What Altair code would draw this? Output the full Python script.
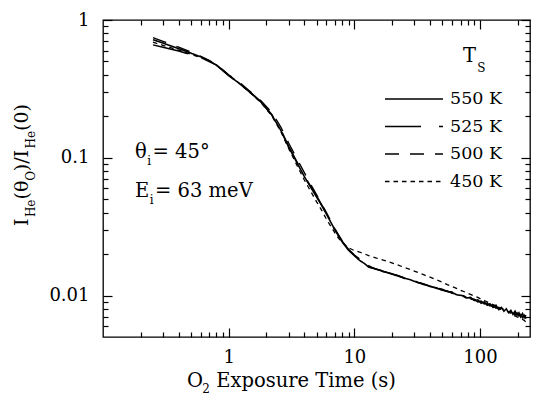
import altair as alt
import pandas as pd

# ---------------- data ----------------
time_s = [0.25, 0.3, 0.4, 0.5, 0.6, 0.7, 0.8, 1.0, 1.2, 1.5, 1.8, 2.2, 2.6, 3.0, 3.5, 4.0, 4.5, 5.0, 5.5,
          6.0, 6.5, 7.0, 7.5, 8.0, 9.0, 10,
          11, 12, 13, 14, 15, 17, 19, 22, 25, 28, 32, 36, 40, 45, 50, 55,
          60, 66, 72, 78, 84, 90, 96, 102, 108, 114, 120, 127, 134, 141, 148, 155, 162, 169, 176, 183,
          190, 197, 204, 211, 218, 225, 232]

i_550 = [0.72, 0.68, 0.62, 0.575, 0.54, 0.505, 0.47, 0.395, 0.35, 0.295, 0.255, 0.205, 0.158, 0.12, 0.092,
         0.073, 0.061, 0.052, 0.045, 0.039, 0.034, 0.030, 0.027, 0.0245, 0.0213, 0.0195,
         0.0180, 0.0171, 0.0161, 0.0159, 0.0155, 0.0150, 0.0145, 0.0139, 0.0134, 0.0130, 0.0124, 0.0120,
         0.0117, 0.0113, 0.0110, 0.0107,
         0.0105, 0.0101, 0.0100, 0.0096, 0.0097, 0.0092, 0.0093, 0.0088, 0.0090, 0.0085, 0.0087, 0.0082,
         0.0085, 0.0079, 0.0082, 0.0077, 0.0080, 0.0075, 0.0078, 0.0073, 0.0077, 0.0072, 0.0075, 0.0070,
         0.0074, 0.0069, 0.0072]

i_525 = [0.66, 0.635, 0.595, 0.56, 0.53, 0.50, 0.47, 0.397, 0.352, 0.297, 0.256, 0.206, 0.16, 0.121, 0.093,
         0.074, 0.062, 0.053, 0.0455, 0.0395, 0.0345, 0.0302, 0.0272, 0.0248, 0.0216, 0.0196,
         0.0178, 0.0175, 0.0161, 0.0158, 0.0156, 0.0149, 0.0146, 0.0140, 0.0135, 0.0129, 0.0125, 0.0121,
         0.0116, 0.0114, 0.0109, 0.0108,
         0.0104, 0.0103, 0.0098, 0.0098, 0.0094, 0.0094, 0.0090, 0.0091, 0.0087, 0.0088, 0.0084, 0.0085,
         0.0081, 0.0082, 0.0078, 0.0080, 0.0076, 0.0078, 0.0074, 0.0076, 0.0072, 0.0075, 0.0071, 0.0073,
         0.0069, 0.0072, 0.0068]

i_500 = [0.745, 0.70, 0.635, 0.585, 0.545, 0.51, 0.475, 0.40, 0.356, 0.30, 0.26, 0.214, 0.167, 0.128, 0.098,
         0.078, 0.064, 0.054, 0.046, 0.040, 0.0348, 0.0305, 0.0274, 0.0249, 0.0216, 0.0197,
         0.0184, 0.0172, 0.0165, 0.0159, 0.0155, 0.0151, 0.0144, 0.0140, 0.0133, 0.0131, 0.0125, 0.0121,
         0.0117, 0.0114, 0.0111, 0.0107,
         0.0106, 0.0102, 0.0101, 0.0097, 0.0096, 0.0093, 0.0092, 0.0089, 0.0089, 0.0086, 0.0086, 0.0083,
         0.0083, 0.0080, 0.0080, 0.0078, 0.0078, 0.0076, 0.0076, 0.0074, 0.0075, 0.0073, 0.0073, 0.0071,
         0.0072, 0.0070, 0.0070]

i_450 = [0.69, 0.655, 0.605, 0.565, 0.532, 0.503, 0.472, 0.396, 0.35, 0.294, 0.252, 0.202, 0.155, 0.117, 0.088,
         0.069, 0.057, 0.048, 0.0415, 0.0358, 0.0318, 0.0285, 0.026, 0.0243, 0.0222, 0.0212,
         0.0207, 0.0201, 0.0195, 0.0191, 0.0187, 0.0181, 0.0175, 0.0167, 0.0160, 0.0154, 0.0147, 0.0141,
         0.0136, 0.0130, 0.0125, 0.0120,
         0.0116, 0.0112, 0.0108, 0.0105, 0.0102, 0.0099, 0.0097, 0.0094, 0.0092, 0.0090, 0.0088, 0.0086,
         0.0084, 0.0082, 0.0081, 0.0079, 0.0077, 0.0076, 0.0074, 0.0072, 0.0071, 0.0070, 0.0069, 0.0068,
         0.0067, 0.0066, 0.0064]

series = ["550 K", "525 K", "500 K", "450 K"]

x_major = [1, 10, 100]
x_minor = [0.2, 0.3, 0.4, 0.5, 0.6, 0.7, 0.8, 0.9, 2, 3, 4, 5, 6, 7, 8, 9,
           20, 30, 40, 50, 60, 70, 80, 90, 200]
y_major = [0.01, 0.1, 1]
y_minor = [0.006, 0.007, 0.008, 0.009, 0.02, 0.03, 0.04, 0.05, 0.06, 0.07, 0.08, 0.09,
           0.2, 0.3, 0.4, 0.5, 0.6, 0.7, 0.8, 0.9]

# ---------------- table ----------------
rows = []
for name, vals in zip(series, [i_550, i_525, i_500, i_450]):
    assert len(vals) == len(time_s)
    for t, v in zip(time_s, vals):
        rows.append({"t": t, "v": v, "T": name})
df = pd.DataFrame(rows)

FONT = "DejaVu Serif"
# approximate advance widths (em) of DejaVu Serif, used only to place sub/superscript pieces
EM = {"I": 0.468, "H": 0.875, "e": 0.592, "(": 0.390, ")": 0.390, "\u03b8": 0.602, "O": 0.787,
      "/": 0.337, "0": 0.636, "E": 0.730, "i": 0.320, "T": 0.682, "2": 0.636, " ": 0.318}


def wid(s, size):
    return sum(EM[c] for c in s) * size


W, H = 427, 317
OX, OY = 103, 20  # plot origin inside the page

X_SCALE = alt.Scale(type="log", domain=[0.1, 250], nice=False)
Y_SCALE = alt.Scale(type="log", domain=[0.005, 1], nice=False)

base = alt.Chart(df)

lines = base.mark_line(color="black", strokeCap="butt").encode(
    x=alt.X("t:Q", scale=X_SCALE,
            axis=alt.Axis(orient="bottom", values=x_major, format="~g", ticks=False, domain=False,
                          grid=False, labelFont=FONT, labelFontSize=18, labelColor="black",
                          labelPadding=11, title=None)),
    y=alt.Y("v:Q", scale=Y_SCALE,
            axis=alt.Axis(orient="left", values=y_major, format="~g", ticks=False, domain=False,
                          grid=False, labelFont=FONT, labelFontSize=18, labelColor="black",
                          labelPadding=14, title=None)),
    strokeDash=alt.StrokeDash(
        "T:N",
        scale=alt.Scale(domain=series, range=[[1, 0], [36, 18], [14, 11], [4.5, 4]]),
        legend=alt.Legend(orient="none", legendX=281, legendY=69, title=None,
                          symbolType="stroke", symbolSize=3364, symbolStrokeWidth=1.3,
                          symbolStrokeColor="black", clipHeight=20, rowPadding=7.5,
                          labelFont=FONT, labelFontSize=17.5, labelColor="black",
                          labelOffset=6, padding=0)),
    strokeWidth=alt.StrokeWidth("T:N", scale=alt.Scale(domain=series, range=[1.6, 1.3, 1.3, 1.3]),
                                legend=None),
)


def tick_layer(xorient, yorient, xvals, yvals, size):
    ax = dict(offset=-size, tickSize=size, labels=False, domain=False, grid=False, title=None,
              tickColor="black", tickWidth=1.2)
    return base.mark_point(opacity=0).encode(
        x=alt.X("t:Q", scale=X_SCALE, axis=alt.Axis(orient=xorient, values=xvals, **ax)),
        y=alt.Y("v:Q", scale=Y_SCALE, axis=alt.Axis(orient=yorient, values=yvals, **ax)),
    )


ticks = [
    tick_layer("bottom", "left", x_major, y_major, 9),
    tick_layer("bottom", "left", x_minor, y_minor, 5),
    tick_layer("top", "right", x_major, y_major, 9),
    tick_layer("top", "right", x_minor, y_minor, 5),
]


def label(text, x, y, size, angle=0):
    return alt.Chart(alt.Data(values=[{}])).mark_text(
        text=text, font=FONT, fontSize=size, color="black", align="left",
        baseline="alphabetic", angle=angle
    ).encode(x=alt.value(x - OX), y=alt.value(y - OY))


texts = []
A, AS = 19.5, 12  # annotation main / subscript sizes
# θ_i = 45°
x0 = 135
texts += [label("\u03b8", x0, 158, A), label("i", x0 + wid("\u03b8", A) + 0.5, 165, AS),
          label("= 45\u00b0", x0 + wid("\u03b8", A) + wid("i", AS) + 2, 158, A)]
# E_i = 63 meV
texts += [label("E", x0, 197, A), label("i", x0 + wid("E", A) + 0.5, 204, AS),
          label("= 63 meV", x0 + wid("E", A) + wid("i", AS) + 2, 197, A)]
# legend title T_S
texts += [label("T", 463, 62, A), label("S", 463 + wid("T", A) + 1, 72, AS)]
# x-axis title O_2 Exposure Time (s)
xt = 187
texts += [label("O", xt, 387, A), label("2", xt + wid("O", A), 393, AS),
          label("Exposure Time (s)", xt + wid("O", A) + wid("2", AS) + wid(" ", A), 387, A)]

# y-axis title I_He(θ_O)/I_He(0), rotated
MAIN, SUB = 19, 12
pieces = [("I", False), ("He", True), ("(\u03b8", False), ("O", True), (")/I", False), ("He", True),
          ("(0)", False)]
lens = [wid(s, SUB if sub else MAIN) for s, sub in pieces]
ystart = 165 + sum(lens) / 2
acc = 0
for (s, sub), ln in zip(pieces, lens):
    texts.append(label(s, 35 if sub else 28, ystart - acc, SUB if sub else MAIN, angle=270))
    acc += ln

chart = alt.layer(lines, *ticks, *texts).resolve_axis(
    x="independent", y="independent"
).properties(
    width=W, height=H,
    autosize=alt.AutoSizeParams(type="none"),
    padding={"left": OX, "top": OY, "right": 535 - OX - W, "bottom": 396 - OY - H},
).configure_view(stroke="black", strokeWidth=1.3)

chart.save("out.html", embed_options={"renderer": "svg", "actions": False})
